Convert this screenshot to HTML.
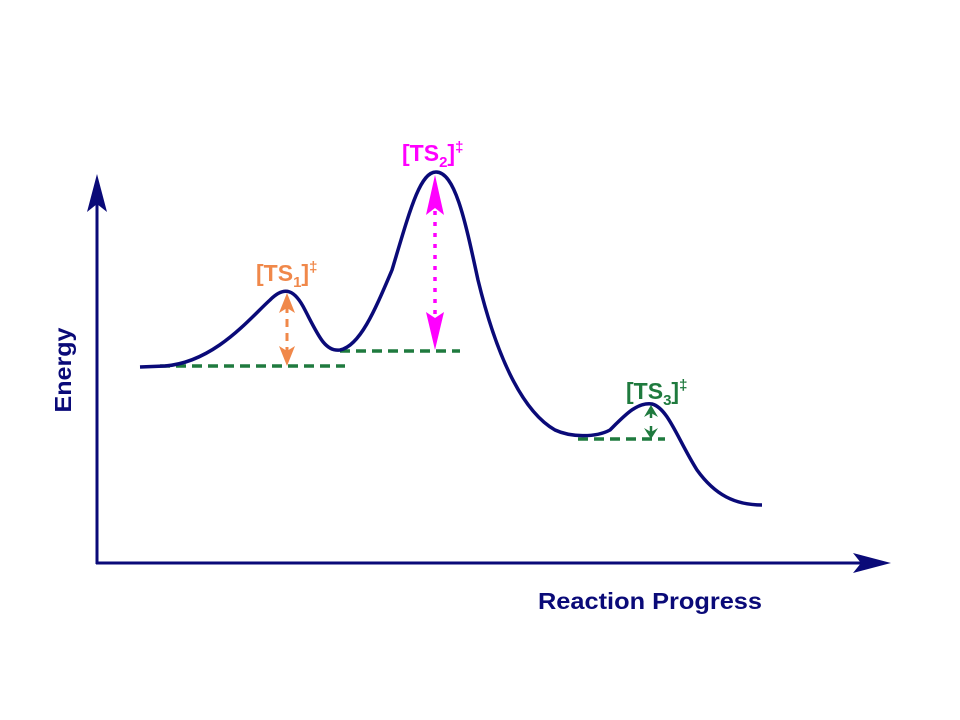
<!DOCTYPE html>
<html><head><style>body{margin:0;background:#fff}svg{display:block}</style></head>
<body>
<svg width="960" height="720" viewBox="0 0 960 720" xmlns="http://www.w3.org/2000/svg" font-family="Liberation Sans, sans-serif" font-weight="bold">
<!-- axes -->
<line x1="97" y1="564" x2="97" y2="190" stroke="#0a0a78" stroke-width="3"/>
<path d="M97,174 L87,212 L97,204 L107,212 z" fill="#0a0a78"/>
<line x1="96" y1="563" x2="875" y2="563" stroke="#0a0a78" stroke-width="3"/>
<path d="M891,563 L853,553 L861,563 L853,573 z" fill="#0a0a78"/>
<text x="71" y="370" font-size="23" fill="#0a0a78" text-anchor="middle" textLength="85" lengthAdjust="spacingAndGlyphs" transform="rotate(-90 71 370)">Energy</text>
<text x="538" y="609" font-size="23" fill="#0a0a78" textLength="224" lengthAdjust="spacingAndGlyphs">Reaction Progress</text>
<!-- dashed -->
<g stroke="#1f7a3e" stroke-width="3.5" stroke-dasharray="10,6">
<line x1="160" y1="366" x2="345" y2="366"/>
<line x1="340" y1="351" x2="460" y2="351"/>
<line x1="578" y1="439" x2="665" y2="439"/>
</g>
<!-- curve -->
<path d="M140,367 L165,366 C215,362 250,318 270,300 C285,285 295,290 305,310 C318,335 325,352 340,350 C360,346 375,310 392,270 C410,210 420,172 436,172 C455,172 465,220 478,280 C495,350 520,410 555,430 C570,437 595,438 610,430 C625,415 637,402 652,404 C668,408 678,440 697,470 C715,495 735,505 762,505" fill="none" stroke="#0a0a78" stroke-width="3.5"/>
<!-- orange arrow -->
<line x1="287" y1="305" x2="287" y2="352" stroke="#f0884a" stroke-width="3" stroke-dasharray="8,6"/>
<path d="M287,293 L279,313 L287,308 L295,313 z" fill="#f0884a"/>
<path d="M287,366 L279,346 L287,351 L295,346 z" fill="#f0884a"/>
<text x="256" y="281" font-size="23" fill="#f0884a">[TS<tspan font-size="15" dy="6">1</tspan><tspan dy="-6">]</tspan><tspan font-size="15" dy="-9">‡</tspan></text>
<!-- magenta arrow -->
<line x1="435" y1="200" x2="435" y2="325" stroke="#ff00ff" stroke-width="3.5" stroke-dasharray="4,7"/>
<path d="M435,175 L426,215 L435,208 L444,215 z" fill="#ff00ff"/>
<path d="M435,350 L426,312 L435,318 L444,312 z" fill="#ff00ff"/>
<text x="402" y="161" font-size="23" fill="#ff00ff">[TS<tspan font-size="15" dy="6">2</tspan><tspan dy="-6">]</tspan><tspan font-size="15" dy="-9">‡</tspan></text>
<!-- green arrow -->
<path d="M651,405 L644,417 L651,413 L658,417 z" fill="#1f7a3e"/>
<line x1="651" y1="412" x2="651" y2="418" stroke="#1f7a3e" stroke-width="2.5"/>
<path d="M651,439 L644,428 L651,432 L658,428 z" fill="#1f7a3e"/>
<line x1="651" y1="426" x2="651" y2="432" stroke="#1f7a3e" stroke-width="2.5"/>
<text x="626" y="399" font-size="23" fill="#1f7a3e">[TS<tspan font-size="15" dy="6">3</tspan><tspan dy="-6">]</tspan><tspan font-size="15" dy="-9">‡</tspan></text>
</svg>
</body></html>
